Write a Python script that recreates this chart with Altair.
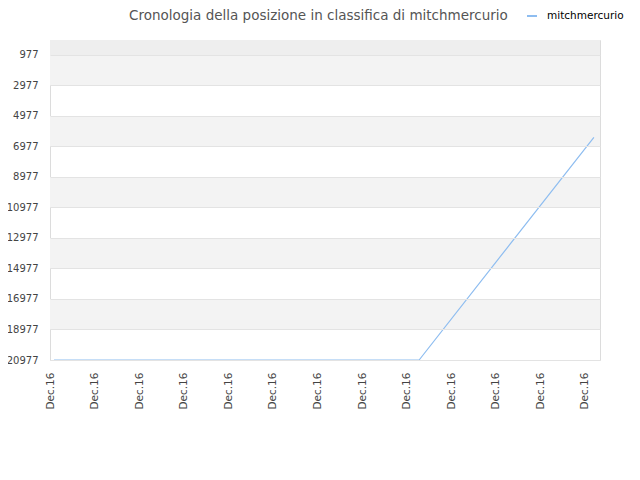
import altair as alt
import pandas as pd

title_text = "Cronologia della posizione in classifica di mitchmercurio"
series_name = "mitchmercurio"
x_pos = [0.09, 8.28, 12.2]
ranks = [20977, 20977, 6378]
tick_vals = [977, 2977, 4977, 6977, 8977, 10977, 12977, 14977, 16977, 18977, 20977]
x_ticks = list(range(13))
x_label = "Dec.16"
band_start = [977, 4977, 8977, 12977, 16977]
band_end = [2977, 6977, 10977, 14977, 18977]
top_start = [0]
top_end = [977]

line_df = pd.DataFrame({"x": x_pos, "rank": ranks, "series": [series_name] * len(x_pos)})
band_df = pd.DataFrame({"s": band_start, "e": band_end})
top_df = pd.DataFrame({"s": top_start, "e": top_end})
title_df = pd.DataFrame({"t": [title_text]})

yscale = alt.Scale(domain=[0, 20977], reverse=True, nice=False, zero=False)
xscale = alt.Scale(domain=[0, 12.337], nice=False, zero=False)

yaxis = alt.Axis(values=tick_vals, grid=True, gridColor="#e3e3e3", ticks=False,
                 domain=False, labelPadding=12, labelFontSize=10, labelColor="#444",
                 labelOverlap=False, labelFont="DejaVu Sans", zindex=1, format="d")

bands = alt.Chart(band_df).mark_rect(color="#f3f3f3").encode(
    y=alt.Y("s:Q", scale=yscale, title=None, axis=yaxis),
    y2="e:Q",
    x=alt.value(0),
    x2=alt.value(550),
)
top = alt.Chart(top_df).mark_rect(color="#eeeeee").encode(
    y=alt.Y("s:Q", scale=yscale, title=None, axis=yaxis),
    y2="e:Q",
    x=alt.value(0),
    x2=alt.value(550),
)

line = alt.Chart(line_df).mark_line(strokeWidth=1.2).encode(
    x=alt.X("x:Q", scale=xscale, title=None,
            axis=alt.Axis(values=x_ticks, labelExpr=f"'{x_label}'", labelAngle=-90,
                          grid=False, ticks=False, domain=False, labelPadding=12,
                          labelOverlap=False,
                          labelFontSize=10.5, labelColor="#444", labelFont="DejaVu Sans")),
    y=alt.Y("rank:Q", scale=yscale, title=None, axis=yaxis),
    color=alt.Color("series:N", scale=alt.Scale(domain=[series_name], range=["#8ebdf0"]),
                    legend=alt.Legend(title=None, orient="none", legendX=476, legendY=-30,
                                      symbolType="stroke", symbolStrokeWidth=2, symbolSize=100,
                                      labelOffset=9,
                                      labelFontSize=10.5, labelColor="#000", labelFont="DejaVu Sans",
                                      padding=0)),
)

title = alt.Chart(title_df).mark_text(
    align="left", baseline="alphabetic", fontSize=13.5, color="#555", font="DejaVu Sans"
).encode(text="t:N", x=alt.value(79), y=alt.value(-20))

chart = alt.layer(top, bands, line, title).properties(
    width=550,
    height=320,
    padding={"left": 42, "top": 32, "right": 30, "bottom": 100},
    autosize=alt.AutoSizeParams(type="none"),
).configure_view(stroke="#dcdcdc", strokeWidth=1)

chart.save("out.html", embed_options={"renderer": "svg", "actions": False})
